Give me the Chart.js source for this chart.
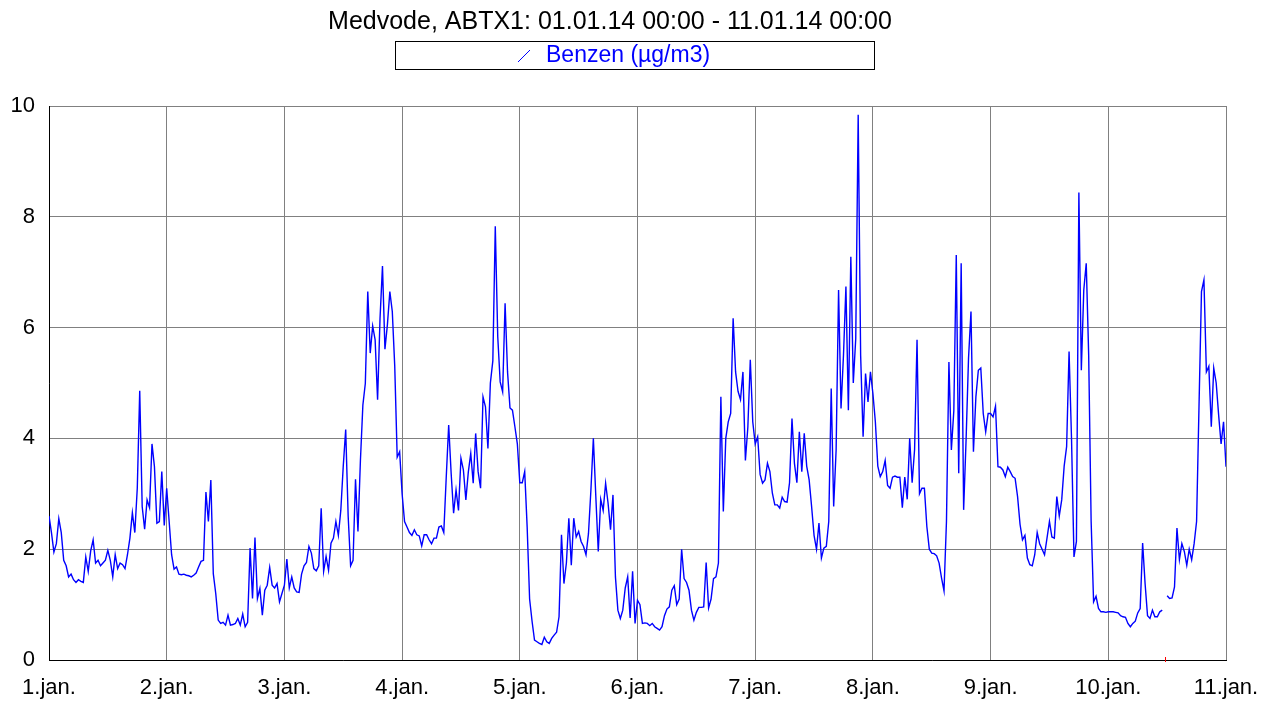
<!DOCTYPE html>
<html>
<head>
<meta charset="utf-8">
<title>Medvode, ABTX1 - Benzen</title>
<script src="https://cdn.jsdelivr.net/npm/chart.js@4.4.1/dist/chart.umd.min.js"></script>
<style>
  body { margin: 0; background: #fff; }
  #wrap { width: 1263px; height: 702px; position: relative; }
</style>
</head>
<body>
<div id="wrap"><canvas id="benzenChart"></canvas></div>
<script>
// half-hourly benzene values (µg/m3), 48 per day
const day1 = [2.6, 2.3, 1.95, 2.1, 2.55, 2.3, 1.8, 1.7, 1.5, 1.55, 1.45, 1.4, 1.45, 1.42, 1.4, 1.86, 1.6, 1.97, 2.17, 1.75, 1.8, 1.7, 1.75, 1.8, 1.98, 1.8, 1.5, 1.9, 1.65, 1.75, 1.72, 1.65, 1.9, 2.2, 2.66, 2.3, 3.1, 4.86, 2.77, 2.36, 2.89, 2.75, 3.9, 3.49, 2.47, 2.5, 3.4, 2.43]
const day2 = [3.1, 2.5, 1.9, 1.64, 1.68, 1.55, 1.54, 1.55, 1.53, 1.52, 1.5, 1.53, 1.57, 1.68, 1.78, 1.8, 3.03, 2.5, 3.25, 1.56, 1.2, 0.72, 0.66, 0.68, 0.63, 0.81, 0.63, 0.64, 0.66, 0.75, 0.63, 0.83, 0.6, 0.68, 2.02, 1.11, 2.21, 1.11, 1.29, 0.81, 1.26, 1.35, 1.67, 1.35, 1.3, 1.38, 1.05, 1.2]
const day3 = [1.35, 1.82, 1.3, 1.5, 1.3, 1.23, 1.22, 1.55, 1.7, 1.76, 2.05, 1.93, 1.65, 1.61, 1.7, 2.74, 1.6, 1.87, 1.62, 2.11, 2.2, 2.5, 2.25, 2.7, 3.5, 4.16, 2.6, 1.7, 1.8, 3.26, 2.32, 3.6, 4.6, 4.99, 6.65, 5.54, 6.03, 5.78, 4.7, 6.17, 7.11, 5.61, 6.05, 6.65, 6.29, 5.3, 3.66, 3.76]
const day4 = [3.0, 2.5, 2.4, 2.3, 2.25, 2.35, 2.26, 2.24, 2.06, 2.26, 2.26, 2.17, 2.1, 2.2, 2.2, 2.4, 2.42, 2.3, 3.3, 4.24, 3.37, 2.65, 3.07, 2.7, 3.64, 3.43, 2.89, 3.39, 3.73, 3.19, 4.09, 3.4, 3.1, 4.75, 4.57, 3.82, 5.0, 5.4, 7.83, 5.84, 5.02, 4.84, 6.44, 5.2, 4.55, 4.51, 4.21, 3.9]
const day5 = [3.2, 3.2, 3.4, 2.4, 1.1, 0.7, 0.36, 0.33, 0.3, 0.28, 0.41, 0.33, 0.3, 0.39, 0.45, 0.5, 0.78, 2.26, 1.38, 1.75, 2.56, 1.71, 2.56, 2.22, 2.32, 2.14, 2.05, 1.9, 2.28, 3.07, 4.0, 2.95, 1.96, 2.9, 2.7, 3.19, 2.83, 2.35, 2.98, 1.5, 0.9, 0.75, 0.9, 1.3, 1.5, 0.76, 1.6, 0.66]
const day6 = [1.08, 1.0, 0.66, 0.67, 0.66, 0.62, 0.66, 0.6, 0.57, 0.54, 0.6, 0.8, 0.92, 0.96, 1.26, 1.34, 1.0, 1.1, 2.0, 1.47, 1.4, 1.26, 0.9, 0.72, 0.86, 0.95, 0.95, 0.96, 1.76, 0.94, 1.1, 1.47, 1.5, 1.75, 4.75, 2.68, 4.0, 4.3, 4.45, 6.17, 5.2, 4.85, 4.7, 5.2, 3.6, 4.2, 5.42, 4.3]
const day7 = [3.9, 4.03, 3.35, 3.19, 3.25, 3.55, 3.4, 3.01, 2.8, 2.8, 2.74, 2.94, 2.86, 2.85, 3.2, 4.36, 3.55, 3.2, 4.12, 3.4, 4.09, 3.5, 3.25, 2.77, 2.25, 2.0, 2.47, 1.84, 2.02, 2.05, 2.5, 4.9, 2.77, 3.79, 6.68, 4.54, 5.5, 6.74, 4.51, 7.28, 5.0, 5.8, 9.84, 5.5, 4.03, 5.17, 4.66, 5.2]
const day8 = [4.81, 4.3, 3.5, 3.31, 3.4, 3.6, 3.15, 3.1, 3.3, 3.32, 3.3, 3.3, 2.75, 3.3, 2.9, 4.0, 3.2, 3.8, 5.78, 3.0, 3.1, 3.1, 2.41, 2.0, 1.93, 1.92, 1.88, 1.75, 1.48, 1.25, 2.5, 5.38, 3.79, 4.5, 7.31, 3.37, 7.16, 2.71, 3.97, 5.45, 6.29, 3.76, 4.75, 5.23, 5.27, 4.45, 4.12, 4.45]
const day9 = [4.45, 4.39, 4.58, 3.49, 3.48, 3.43, 3.31, 3.48, 3.4, 3.31, 3.28, 2.95, 2.45, 2.17, 2.25, 1.84, 1.72, 1.7, 1.9, 2.3, 2.1, 2.0, 1.9, 2.2, 2.5, 2.22, 2.2, 2.95, 2.6, 2.89, 3.5, 3.85, 5.57, 4.0, 1.86, 2.14, 8.44, 5.23, 6.68, 7.16, 5.5, 2.5, 1.05, 1.15, 0.93, 0.87, 0.87, 0.86]
// last day also holds the value at 11.jan. 00:00, null = missing measurement
const day10 = [0.87, 0.87, 0.87, 0.86, 0.85, 0.8, 0.78, 0.77, 0.66, 0.6, 0.66, 0.7, 0.85, 0.93, 2.11, 1.38, 0.8, 0.75, 0.9, 0.78, 0.78, 0.87, 0.9, null, 1.16, 1.11, 1.12, 1.32, 2.38, 1.81, 2.1, 1.96, 1.71, 2.0, 1.81, 2.1, 2.5, 4.6, 6.65, 6.86, 5.2, 5.3, 4.21, 5.27, 5.0, 4.42, 3.9, 4.3, 3.49]

const dayLabels = ['1.jan.', '2.jan.', '3.jan.', '4.jan.', '5.jan.', '6.jan.', '7.jan.', '8.jan.', '9.jan.', '10.jan.', '11.jan.']
const yTicks = [0, 2, 4, 6, 8, 10]
const missingMarks = [9 + 23 / 48]
const titleText = 'Medvode, ABTX1: 01.01.14 00:00 - 11.01.14 00:00'
const seriesName = 'Benzen (µg/m3)'

const FONT = '"Liberation Sans", Arial, sans-serif'

function buildPoints(){
  const days = [day1, day2, day3, day4, day5, day6, day7, day8, day9, day10]
  const points = []
  days.forEach((vals, d) => {
    vals.forEach((v, k) => points.push({ x: d + k / 48, y: v }))
  })
  return points
}

// title, boxed legend and the red missing-data marks
const headerPlugin = {
  id: 'header',
  afterDraw(chart){
    const ctx = chart.ctx
    ctx.save()
    ctx.font = '25px ' + FONT
    ctx.fillStyle = '#000'
    ctx.textAlign = 'center'
    ctx.textBaseline = 'middle'
    ctx.fillText(titleText, 610, 22)

    ctx.strokeStyle = '#000'
    ctx.lineWidth = 1
    ctx.strokeRect(395.5, 41.5, 479, 28)

    ctx.strokeStyle = '#0000ff'
    ctx.beginPath()
    ctx.moveTo(518, 62)
    ctx.lineTo(530, 50)
    ctx.stroke()
    ctx.font = '23px ' + FONT
    ctx.fillStyle = '#0000ff'
    ctx.textAlign = 'left'
    ctx.fillText(seriesName, 546, 56)

    const xs = chart.scales.x
    const ys = chart.scales.y
    ctx.strokeStyle = '#ff0000'
    missingMarks.forEach(d => {
      const px = Math.round(xs.getPixelForValue(d)) + 0.5
      ctx.beginPath()
      ctx.moveTo(px, ys.bottom - 3)
      ctx.lineTo(px, ys.bottom + 2)
      ctx.stroke()
    })
    ctx.restore()
  }
}

function benzenChart(){
  const config = {
    type: 'line',
    data: {
      datasets: [{
        label: seriesName,
        data: buildPoints(),
        borderColor: '#0000ff',
        borderWidth: 1.4,
        pointRadius: 0,
        tension: 0,
        spanGaps: false,
        fill: false
      }]
    },
    options: {
      responsive: true,
      maintainAspectRatio: false,
      animation: false,
      layout: { padding: { top: 106, right: 37, left: 0, bottom: 0 } },
      plugins: {
        legend: { display: false },
        title: { display: false },
        tooltip: { enabled: false }
      },
      scales: {
        x: {
          type: 'linear',
          min: 0,
          max: 10,
          afterBuildTicks: s => { s.ticks = dayLabels.map((_, i) => ({ value: i })) },
          afterFit: s => {
            s.height = 42
            s.paddingLeft = 0
            s.paddingRight = 0
          },
          ticks: {
            callback: v => dayLabels[v],
            color: '#000',
            font: { family: FONT, size: 22 },
            padding: 15,
            maxRotation: 0,
            autoSkip: false
          },
          grid: { color: '#808080', drawTicks: false },
          border: { color: '#000' }
        },
        y: {
          min: 0,
          max: 10,
          afterBuildTicks: s => { s.ticks = yTicks.map(v => ({ value: v })) },
          afterFit: s => { s.width = 49 },
          ticks: {
            color: '#000',
            font: { family: FONT, size: 22 },
            padding: 14
          },
          grid: { color: '#808080', drawTicks: false },
          border: { color: '#000' }
        }
      }
    },
    plugins: [headerPlugin]
  }
  new Chart(document.getElementById('benzenChart'), config)
}

benzenChart()
</script>
</body>
</html>
